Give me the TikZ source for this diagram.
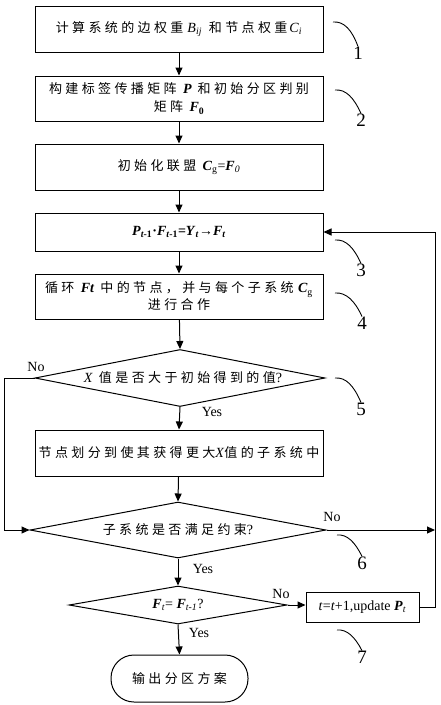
\documentclass[tikz,border=0pt]{standalone}
\usepackage{fontspec}
\setmainfont{Liberation Serif}
\newfontfamily\cjkfont[LetterSpace=26]{Noto Sans CJK SC}
\usetikzlibrary{shapes.geometric,arrows.meta}
\newcommand{\zh}[1]{{\cjkfont\fontsize{13}{15}\selectfont #1}}
\newcommand{\bi}[1]{\textbf{\textit{#1}}}
\newcommand{\msub}[1]{\textsubscript{#1}}
\begin{document}
\begin{tikzpicture}[x=1pt,y=-1pt,
  lat/.style={font=\fontsize{14}{16}\selectfont},
  box/.style={draw, line width=1pt, minimum width=288pt, inner sep=0pt, align=center, lat},
  dia/.style={draw, diamond, line width=1pt, inner sep=0pt, aspect=5, align=center, lat},
  arr/.style={line width=1pt, -{Triangle[width=7pt,length=8pt]}},
  lbl/.style={lat, inner sep=0pt},
  num/.style={font=\fontsize{19}{20}\selectfont, inner sep=0pt},
  callout/.style={line width=0.9pt}]
\useasboundingbox (0,0) rectangle (441,705);
\fill[white] (0,0) rectangle (441,705);

\node[box, minimum height=46pt] (B1) at (179,29) {\zh{计算系统的边权重}\hspace{4pt}\textit{B}\msub{\textit{ij}}\hspace{7pt}\zh{和节点权重}\hspace{2pt}\textit{C}\msub{\textit{i}}};
\node[box, minimum height=45pt] (B2) at (179,98.5) {\zh{构建标签传播矩阵}\hspace{3pt}\bi{P}\hspace{6pt}\zh{和初始分区判别}\\[2pt]\zh{矩阵}\hspace{3pt}\bi{F}\msub{\textbf{0}}};
\node[box, minimum height=46pt] (B3) at (179,167) {\zh{初始化联盟}\hspace{3pt}\bi{C}\msub{g}=\bi{F}\msub{\textit{0}}};
\node[box, minimum height=38pt] (B4) at (179,232) {\bfseries\bi{P}\msub{\textit{t}-1}·\bi{F}\msub{\textit{t}-1}=\bi{Y}\msub{\textit{t}}→\bi{F}\msub{\textit{t}}};
\node[box, minimum height=45pt] (B5) at (179,296.5) {\zh{循环}\hspace{3pt}\bi{Ft}\hspace{6pt}\zh{中的节点，并与每个子系统}\hspace{1pt}\bi{C}\msub{g}\\[1pt]\zh{进行合作}};
\node[dia, minimum width=290pt, minimum height=57pt] (D1) at (180,378) {\hspace{6pt}\textit{X}\hspace{6pt}\zh{值是否大于初始得到的值}?};
\node[box, minimum height=46pt] (B6) at (179,453) {\zh{节点划分到使其获得更大}\textit{X}\zh{值的子系统中}};
\node[dia, minimum width=296pt, minimum height=56pt] (D2) at (178,530) {\zh{子系统是否满足约束}?};
\node[dia, minimum width=218pt, minimum height=38pt] (D3) at (178,605) {\bi{F}\msub{\textit{t}}= \bi{F}\msub{\textit{t-1}}?};
\node[draw, line width=1pt, minimum width=113pt, minimum height=30pt, inner sep=0pt, lat] (B7) at (362.5,607) {\textit{t}=\textit{t}+1,update \bi{P}\msub{\textit{t}}};
\node[draw, line width=1pt, rounded corners=23pt, minimum width=137pt, minimum height=47pt, inner sep=0pt] (T) at (179.5,678.5) {\zh{输出分区方案}};

\coordinate (rx) at (435,0);
\coordinate (lx) at (4,0);

\draw[arr] (B1) -- (B2);
\draw[arr] (B2) -- (B3);
\draw[arr] (B3) -- (B4);
\draw[arr] (B4) -- (B5);
\draw[arr] (B5) -- (D1.north);
\draw[arr] (D1.south) -- (B6.north);
\draw[arr] (B6) -- (D2.north);
\draw[arr] (D2.south) -- (D3.north);
\draw[arr] (D3.south) -- (T.north);
\draw[arr] (D1.west) -- (D1.west -| lx) -- (D2.west -| lx) -- (D2.west);
\draw[arr] (D2.east) -- (D2.east -| rx);
\draw[arr] (D3.east) -- (D3.east -| B7.west);
\draw[arr] (B7.east) -- (B7.east -| rx) -- (B4.east -| rx) -- (B4.east);

\node[lbl] (no1) at (36,367) {No};
\node[lbl] (yes1) at (212,412) {Yes};
\node[lbl] (no2) at (332,517) {No};
\node[lbl] (yes2) at (203,569) {Yes};
\node[lbl] (no3) at (281,594) {No};
\node[lbl] (yes3) at (199,633) {Yes};

\node[num] (n1) at (358,53) {1};
\node[num] (n2) at (361,120) {2};
\node[num] (n3) at (361,270) {3};
\node[num] (n4) at (362,323) {4};
\node[num] (n5) at (361,409) {5};
\node[num] (n6) at (362,563) {6};
\node[num] (n7) at (362,657) {7};

\draw[callout] (333,22) .. controls (344,21) and (352,30) .. (n1.north);
\draw[callout] (335,90) .. controls (346,89) and (354,98) .. (n2.north);
\draw[callout] (335,240) .. controls (346,239) and (354,248) .. (n3.north);
\draw[callout] (335,293) .. controls (346,292) and (355,301) .. (n4.north);
\draw[callout] (335,378) .. controls (346,377) and (354,386) .. (n5.north);
\draw[callout] (337,535) .. controls (347,534) and (355,542) .. (n6.north);
\draw[callout] (337,630) .. controls (347,629) and (355,637) .. (n7.north);
\end{tikzpicture}
\end{document}
